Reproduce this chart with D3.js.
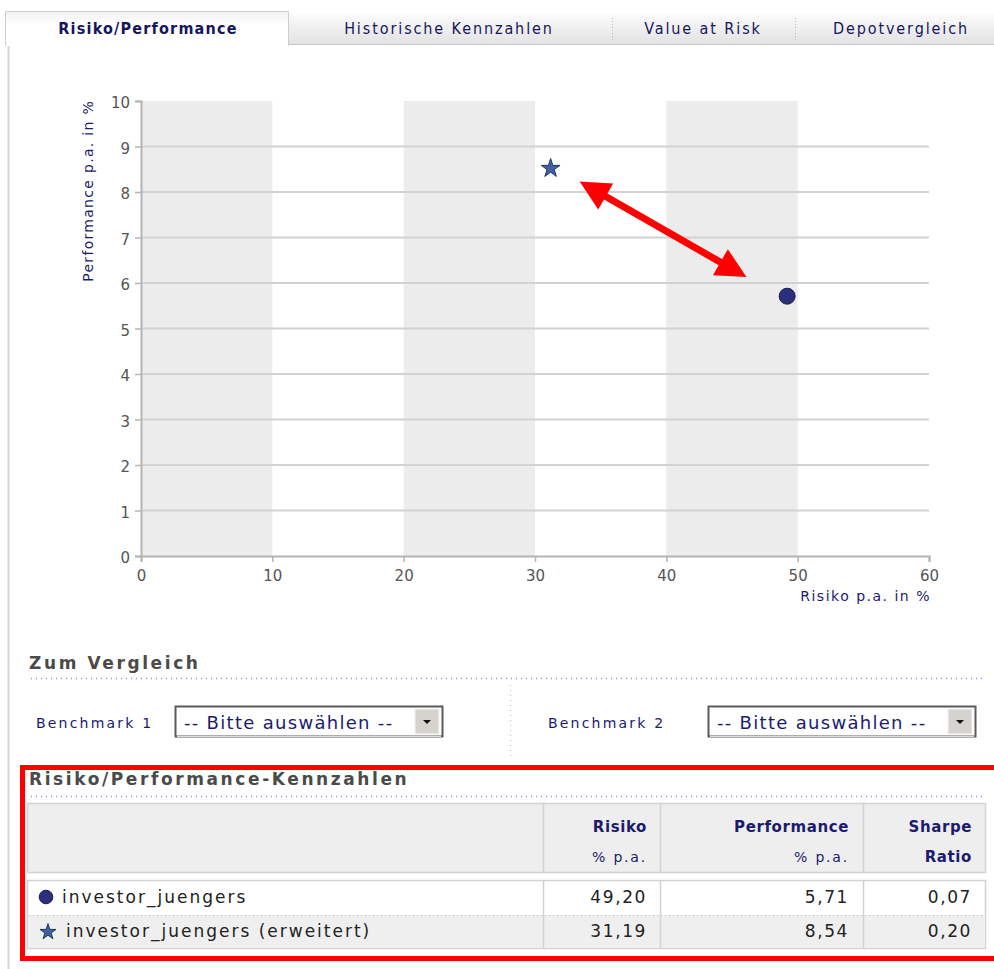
<!DOCTYPE html>
<html>
<head>
<meta charset="utf-8">
<script src="https://cdn.jsdelivr.net/npm/d3@7"></script>
<style>
  body { margin: 0; background: #fff; }
  text { font-family: "DejaVu Sans", Verdana, sans-serif; }
</style>
</head>
<body>
<div id="chart"></div>
<script>
// chart values
var names = ["investor_juengers", "investor_juengers (erweitert)"];
var symbols = ["circle", "star"];
var risk = [49.20, 31.19];
var perf = [5.71, 8.54];
var sharpe = [0.07, 0.20];
var xTicks = [0, 10, 20, 30, 40, 50, 60];
var yTicks = [0, 1, 2, 3, 4, 5, 6, 7, 8, 9, 10];
var bandStarts = [0, 20, 40];
var arrowFrom = [33.4, 8.23];
var arrowTo = [46.1, 6.13];
var tabLabels = ["Risiko/Performance", "Historische Kennzahlen", "Value at Risk", "Depotvergleich"];
var headTop = ["Risiko", "Performance", "Sharpe"];
var headBottom = ["% p.a.", "% p.a.", "Ratio"];

var navy = "#1b1b6f";
var W = 994, H = 969;

var svg = d3.select("#chart").append("svg")
  .attr("width", W).attr("height", H);

var defs = svg.append("defs");
var grad = defs.append("linearGradient").attr("id", "tabbg").attr("x1", 0).attr("y1", 0).attr("x2", 0).attr("y2", 1);
grad.append("stop").attr("offset", "0%").attr("stop-color", "#fbfbfb");
grad.append("stop").attr("offset", "100%").attr("stop-color", "#e2e2e2");
var grad2 = defs.append("linearGradient").attr("id", "activebg").attr("x1", 0).attr("y1", 0).attr("x2", 0).attr("y2", 1);
grad2.append("stop").attr("offset", "0%").attr("stop-color", "#f2f2f2");
grad2.append("stop").attr("offset", "40%").attr("stop-color", "#ffffff");

// ---- tabs
svg.append("rect").attr("x", 288).attr("y", 14).attr("width", W - 288).attr("height", 30).attr("fill", "url(#tabbg)");
svg.append("line").attr("x1", 288).attr("x2", W).attr("y1", 44.5).attr("y2", 44.5).attr("stroke", "#c8c8c8");
svg.append("path").attr("d", "M5.5,46 V11.5 H288.5 V46").attr("fill", "url(#activebg)").attr("stroke", "#cfcfcf");
[612, 795].forEach(function (sx) {
  svg.append("line").attr("x1", sx + 0.5).attr("x2", sx + 0.5).attr("y1", 18).attr("y2", 40)
    .attr("stroke", "#bbb").attr("stroke-dasharray", "1,2");
});
var tabCenters = [148, 449, 703, 901];
tabLabels.forEach(function (t, i) {
  svg.append("text").attr("x", tabCenters[i]).attr("y", 34)
    .attr("text-anchor", "middle")
    .style("font-family", "'DejaVu Sans Condensed', 'DejaVu Sans', sans-serif")
    .style("font-size", "16px")
    .style("font-weight", i == 0 ? "bold" : "normal")
    .style("letter-spacing", i == 0 ? "1.2px" : "1.9px")
    .attr("fill", "#16165e").text(t);
});

// page left border
svg.append("line").attr("x1", 8.5).attr("x2", 8.5).attr("y1", 46).attr("y2", H).attr("stroke", "#d6d6d6").attr("stroke-width", 2);

// ---- scatter chart
var x = d3.scaleLinear().domain([0, 60]).range([141, 929]);
var y = d3.scaleLinear().domain([0, 10]).range([556, 101]);

svg.selectAll(".band").data(bandStarts).enter().append("rect")
  .attr("x", function (d) { return x(d); })
  .attr("y", y(10))
  .attr("width", function (d) { return x(d + 10) - x(d); })
  .attr("height", y(0) - y(10))
  .attr("fill", "#ececec");

svg.selectAll(".grid").data(yTicks.slice(1, 10)).enter().append("line")
  .attr("x1", x(0)).attr("x2", x(60))
  .attr("y1", function (d) { return y(d); }).attr("y2", function (d) { return y(d); })
  .attr("stroke", "#d2d2d2").attr("stroke-width", 2);

var xAxis = svg.append("g").attr("transform", "translate(0," + y(0) + ")")
  .call(d3.axisBottom(x).tickValues(xTicks).tickSize(6).tickPadding(8));
var yAxis = svg.append("g").attr("transform", "translate(" + x(0) + ",0)")
  .call(d3.axisLeft(y).tickValues(yTicks).tickSize(6).tickPadding(5));
[xAxis, yAxis].forEach(function (a) {
  a.select(".domain").attr("stroke", "#b4b4b4").attr("stroke-width", 2);
  a.selectAll(".tick line").attr("stroke", "#b4b4b4").attr("stroke-width", 1.5);
  a.selectAll(".tick text").attr("fill", "#555").style("font-size", "15px")
    .style("font-family", "'DejaVu Sans', Verdana, sans-serif");
});
yAxis.selectAll(".tick text").attr("dy", "0.45em");

svg.append("text")
  .attr("transform", "translate(93,100) rotate(-90)")
  .attr("text-anchor", "end")
  .attr("fill", navy).style("font-size", "14px").style("letter-spacing", "1.3px")
  .text("Performance p.a. in %");
svg.append("text").attr("x", 931).attr("y", 601).attr("text-anchor", "end")
  .attr("fill", navy).style("font-size", "14px").style("letter-spacing", "1.5px")
  .text("Risiko p.a. in %");

// red double arrow annotation
function arrowHead(tip, back) {
  var dx = tip[0] - back[0], dy = tip[1] - back[1];
  var len = Math.sqrt(dx * dx + dy * dy), ux = dx / len, uy = dy / len;
  var hl = 30, hw = 15;
  var bx = tip[0] - ux * hl, by = tip[1] - uy * hl;
  return "M" + tip[0] + "," + tip[1] + "L" + (bx - uy * hw) + "," + (by + ux * hw) + "L" + (bx + uy * hw) + "," + (by - ux * hw) + "Z";
}
var p0 = [x(arrowFrom[0]), y(arrowFrom[1])], p1 = [x(arrowTo[0]), y(arrowTo[1])];
var dxA = p1[0] - p0[0], dyA = p1[1] - p0[1], lA = Math.sqrt(dxA * dxA + dyA * dyA);
svg.append("line")
  .attr("x1", p0[0] + dxA / lA * 22).attr("y1", p0[1] + dyA / lA * 22)
  .attr("x2", p1[0] - dxA / lA * 22).attr("y2", p1[1] - dyA / lA * 22)
  .attr("stroke", "#ff0000").attr("stroke-width", 7);
svg.append("path").attr("d", arrowHead(p0, p1)).attr("fill", "#ff0000");
svg.append("path").attr("d", arrowHead(p1, p0)).attr("fill", "#ff0000");

// points
function drawMark(g, kind, cx, cy, scale) {
  if (kind == "circle") {
    g.append("circle").attr("cx", cx).attr("cy", cy).attr("r", 8 * scale)
      .attr("fill", "#2b2f7c").attr("stroke", "#1a1c52").attr("stroke-width", 1);
  } else {
    g.append("path").attr("d", d3.symbol().type(d3.symbolStar).size(110 * scale * scale)())
      .attr("transform", "translate(" + cx + "," + (cy + 1) + ")")
      .attr("fill", "#3f5f9d").attr("stroke", "#22386c").attr("stroke-width", 1);
  }
}
risk.forEach(function (r, i) {
  drawMark(svg, symbols[i], x(r), y(perf[i]), 1);
});

// ---- Zum Vergleich
function sectionTitle(txt, ty, lineY) {
  svg.append("text").attr("x", 29).attr("y", ty).attr("fill", "#4a4a4a")
    .style("font-size", "17px").style("font-weight", "bold").style("letter-spacing", "2.6px")
    .text(txt);
  svg.append("line").attr("x1", 31).attr("x2", 985).attr("y1", lineY).attr("y2", lineY)
    .attr("stroke", "#8a8fd0").attr("stroke-dasharray", "1,4").attr("stroke-width", 1.3);
}
sectionTitle("Zum Vergleich", 669, 678.5);
svg.append("line").attr("x1", 510.5).attr("x2", 510.5).attr("y1", 685).attr("y2", 760)
  .attr("stroke", "#c4c4c4").attr("stroke-dasharray", "1,4").attr("stroke-width", 1.3);

function selectBox(label, lx, bx) {
  svg.append("text").attr("x", lx).attr("y", 728).attr("fill", navy)
    .style("font-size", "14px").style("letter-spacing", "2.2px").text(label);
  svg.append("rect").attr("x", bx + 0.5).attr("y", 706.5).attr("width", 267).attr("height", 30)
    .attr("fill", "#fff").attr("stroke", "#5a5a5a").attr("stroke-width", 2);
  svg.append("line").attr("x1", bx + 2).attr("x2", bx + 266).attr("y1", 736.5).attr("y2", 736.5).attr("stroke", "#ddd");
  svg.append("text").attr("x", bx + 9).attr("y", 729).attr("fill", navy)
    .style("font-size", "18px").style("letter-spacing", "1.3px").text("-- Bitte auswählen --");
  svg.append("rect").attr("x", bx + 240).attr("y", 709).attr("width", 24).attr("height", 25)
    .attr("fill", "#d6d3ce").attr("stroke", "#f4f4f4");
  svg.append("path").attr("d", "M" + (bx + 248) + ",720 h8 l-4,4 z").attr("fill", "#111");
}
selectBox("Benchmark 1", 36, 175);
selectBox("Benchmark 2", 548, 708);

// ---- Kennzahlen table
sectionTitle("Risiko/Performance-Kennzahlen", 785, 796.5);

var colEdges = [27, 543, 660, 863, 985];
var fmt = d3.formatLocale({ decimal: ",", thousands: ".", grouping: [3], currency: ["", "€"] }).format(".2f");

svg.append("rect").attr("x", colEdges[0] + 0.5).attr("y", 803.5).attr("width", colEdges[4] - colEdges[0]).attr("height", 69)
  .attr("fill", "#eeeeee").attr("stroke", "#d2d2d2").attr("stroke-width", 1.5);
svg.append("rect").attr("x", colEdges[0] + 0.5).attr("y", 880.5).attr("width", colEdges[4] - colEdges[0]).attr("height", 68)
  .attr("fill", "#fff").attr("stroke", "#d2d2d2").attr("stroke-width", 1.5);
svg.append("rect").attr("x", colEdges[0] + 1.5).attr("y", 915).attr("width", colEdges[4] - colEdges[0] - 2).attr("height", 33)
  .attr("fill", "#efefef");
svg.append("line").attr("x1", colEdges[0] + 2).attr("x2", colEdges[4] - 2).attr("y1", 915.5).attr("y2", 915.5)
  .attr("stroke", "#b8b8b8").attr("stroke-dasharray", "1,3");
colEdges.slice(1, 4).forEach(function (cx) {
  svg.append("line").attr("x1", cx + 0.5).attr("x2", cx + 0.5).attr("y1", 804).attr("y2", 872).attr("stroke", "#d2d2d2").attr("stroke-width", 1.5);
  svg.append("line").attr("x1", cx + 0.5).attr("x2", cx + 0.5).attr("y1", 881).attr("y2", 948).attr("stroke", "#d2d2d2").attr("stroke-width", 1.5);
});

var colRight = [647, 849, 972];
headTop.forEach(function (h, i) {
  svg.append("text").attr("x", colRight[i]).attr("y", 832).attr("text-anchor", "end")
    .attr("fill", navy).style("font-size", "15px").style("font-weight", "bold").style("letter-spacing", "0.6px").text(h);
  svg.append("text").attr("x", colRight[i]).attr("y", 862).attr("text-anchor", "end")
    .attr("fill", navy).style("font-size", i == 2 ? "15px" : "14px")
    .style("font-weight", i == 2 ? "bold" : "normal").style("letter-spacing", i == 2 ? "0.6px" : "1.8px").text(headBottom[i]);
});

var rowY = [903, 937];
names.forEach(function (n, i) {
  drawMark(svg, symbols[i], i == 0 ? 46 : 48, rowY[i] - 6, 0.85);
  svg.append("text").attr("x", i == 0 ? 62 : 66).attr("y", rowY[i]).attr("fill", "#222")
    .style("font-size", "17px").style("letter-spacing", "2px").text(n);
  [risk[i], perf[i], sharpe[i]].forEach(function (v, j) {
    svg.append("text").attr("x", colRight[j]).attr("y", rowY[i]).attr("text-anchor", "end")
      .attr("fill", "#222").style("font-size", "17px").style("letter-spacing", "1.6px").text(fmt(v));
  });
});

// red highlight frame
svg.append("rect").attr("x", 22.5).attr("y", 767.5).attr("width", 975).attr("height", 191)
  .attr("fill", "none").attr("stroke", "#ff0000").attr("stroke-width", 5);
</script>
</body>
</html>
